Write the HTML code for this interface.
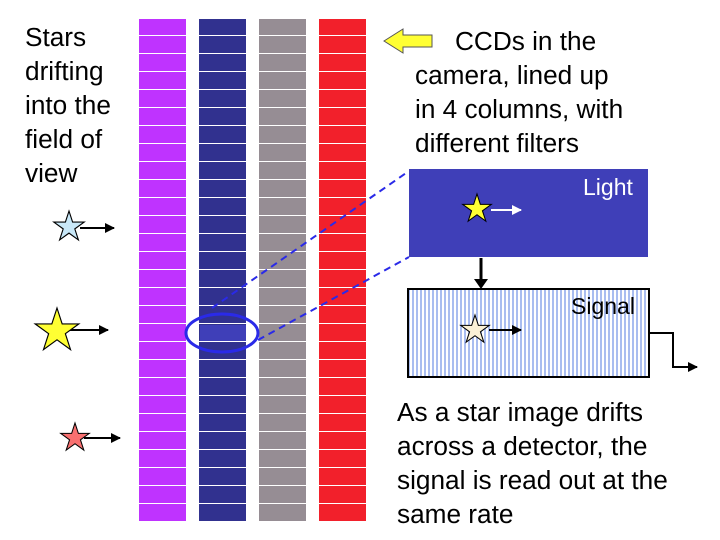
<!DOCTYPE html>
<html><head><style>
body{margin:0;width:720px;height:540px;background:#fff;overflow:hidden;font-family:"Liberation Sans",Arial,sans-serif}
.t{position:absolute;font-size:26.2px;line-height:34px;color:#000}
</style></head><body>
<svg width="720" height="540" style="position:absolute;left:0;top:0">
<defs>
<pattern id="rows" width="10" height="18" patternUnits="userSpaceOnUse" y="18">
<rect x="0" y="17" width="10" height="1.3" fill="#fff"/>
</pattern>
<pattern id="vs" width="4" height="10" patternUnits="userSpaceOnUse">
<rect width="4" height="10" fill="#fff"/><rect x="0" width="2" height="10" fill="#a9bdf0"/>
</pattern>
<marker id="ab" markerWidth="10" markerHeight="10" refX="9" refY="5" orient="auto" markerUnits="userSpaceOnUse"><path d="M0,0 L10,5 L0,10 z" fill="#000"/></marker>
<marker id="aw" markerWidth="10" markerHeight="10" refX="9" refY="5" orient="auto" markerUnits="userSpaceOnUse"><path d="M0,0 L10,5 L0,10 z" fill="#fff"/></marker>
</defs>
<rect x="139" y="19" width="47" height="503" fill="#bf33ff"/>
<rect x="199" y="19" width="47" height="503" fill="#31318f"/>
<rect x="259" y="19" width="47" height="503" fill="#968d94"/>
<rect x="319" y="19" width="47" height="503" fill="#f2202b"/>
<rect x="200" y="325" width="46" height="17" fill="#3f3fb8"/>
<rect x="139" y="18" width="227" height="504" fill="url(#rows)"/>
<ellipse cx="222" cy="333" rx="36" ry="19" fill="none" stroke="#2a2ae8" stroke-width="3"/>
<line x1="212" y1="308" x2="409" y2="171" stroke="#2a2ae8" stroke-width="2" stroke-dasharray="7,5"/>
<line x1="258" y1="340" x2="409" y2="257" stroke="#2a2ae8" stroke-width="2" stroke-dasharray="7,5"/>
<path d="M384,41 L403,29 L403,35 L432,35 L432,47 L403,47 L403,53 Z" fill="#ffff33" stroke="#555" stroke-width="1"/>
<rect x="409" y="169" width="239" height="88" fill="#3f3fb8"/>
<line x1="491" y1="210" x2="521" y2="210" stroke="#fff" stroke-width="2" marker-end="url(#aw)"/>
<line x1="481" y1="258" x2="481" y2="285" stroke="#000" stroke-width="3"/>
<path d="M474,279 L488,279 L481,289 Z" fill="#000"/>
<rect x="408" y="289" width="241" height="88" fill="url(#vs)" stroke="#000" stroke-width="2"/>
<line x1="489" y1="330" x2="521" y2="330" stroke="#000" stroke-width="2" marker-end="url(#ab)"/>
<polyline points="649,333 673,333 673,367 697,367" fill="none" stroke="#000" stroke-width="2" marker-end="url(#ab)"/>
<line x1="80" y1="228" x2="114" y2="228" stroke="#000" stroke-width="2" marker-end="url(#ab)"/>
<line x1="70" y1="330" x2="108" y2="330" stroke="#000" stroke-width="2" marker-end="url(#ab)"/>
<line x1="84" y1="438" x2="120" y2="438" stroke="#000" stroke-width="2" marker-end="url(#ab)"/>
<g stroke="#000">
<polygon transform="translate(69,227) scale(16)" points="0,-1 0.225,-0.309 0.951,-0.309 0.363,0.118 0.588,0.809 0,0.382 -0.588,0.809 -0.363,0.118 -0.951,-0.309 -0.225,-0.309" fill="#c9e8f8" stroke-width="0.07"/>
<polygon transform="translate(57,331) scale(23)" points="0,-1 0.225,-0.309 0.951,-0.309 0.363,0.118 0.588,0.809 0,0.382 -0.588,0.809 -0.363,0.118 -0.951,-0.309 -0.225,-0.309" fill="#ffff33" stroke-width="0.05"/>
<polygon transform="translate(75,438) scale(15)" points="0,-1 0.225,-0.309 0.951,-0.309 0.363,0.118 0.588,0.809 0,0.382 -0.588,0.809 -0.363,0.118 -0.951,-0.309 -0.225,-0.309" fill="#f87070" stroke-width="0.07"/>
<polygon transform="translate(477,209) scale(15)" points="0,-1 0.225,-0.309 0.951,-0.309 0.363,0.118 0.588,0.809 0,0.382 -0.588,0.809 -0.363,0.118 -0.951,-0.309 -0.225,-0.309" fill="#ffff33" stroke-width="0.07"/>
<polygon transform="translate(475,330) scale(15)" points="0,-1 0.225,-0.309 0.951,-0.309 0.363,0.118 0.588,0.809 0,0.382 -0.588,0.809 -0.363,0.118 -0.951,-0.309 -0.225,-0.309" fill="#fbf1d6" stroke-width="0.07"/>
</g>
</svg>
<div class="t" style="left:25px;top:20px">Stars<br>drifting<br>into the<br>field of<br>view</div>
<div class="t" style="left:455px;top:24px">CCDs in the</div>
<div class="t" style="left:415px;top:58px">camera, lined up<br>in 4 columns, with<br>different filters</div>
<div class="t" style="left:583px;top:170px;color:#fff;font-size:23px">Light</div>
<div class="t" style="left:571px;top:289px;font-size:23px">Signal</div>
<div class="t" style="left:397px;top:395px">As a star image drifts<br>across a detector, the<br>signal is read out at the<br>same rate</div>
</body></html>
